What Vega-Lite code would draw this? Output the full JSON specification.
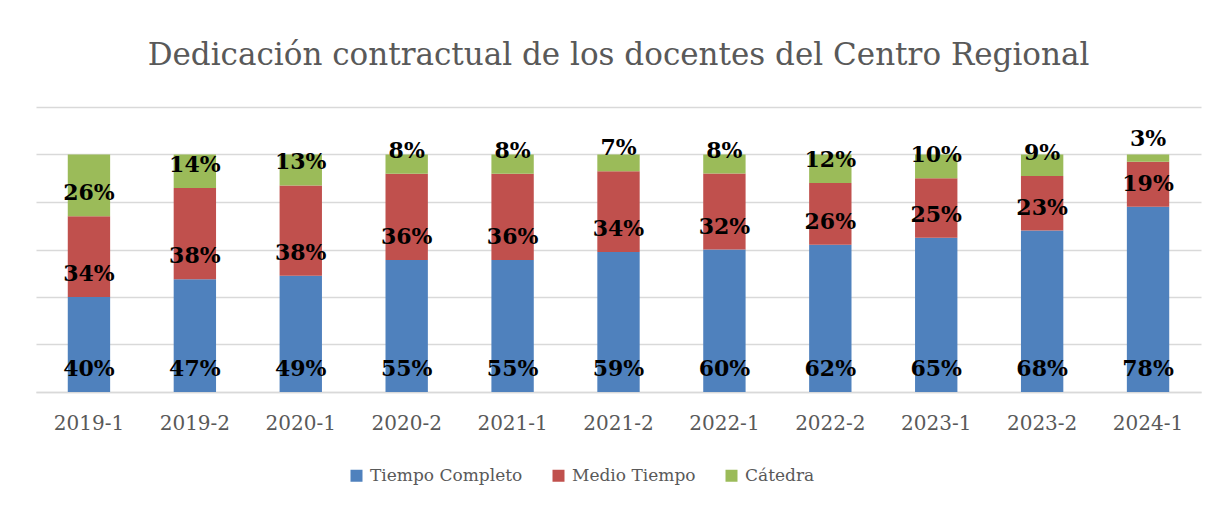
{
  "$schema": "https://vega.github.io/schema/vega-lite/v6.json",
  "width": 1165,
  "height": 285,
  "autosize": "none",
  "padding": {"left": 36, "top": 107, "right": 22, "bottom": 114},
  "background": "white",
  "title": {
    "text": "Dedicación contractual de los docentes del Centro Regional",
    "font": "DejaVu Serif",
    "fontSize": 31,
    "fontWeight": "normal",
    "color": "#595959",
    "anchor": "middle",
    "offset": 35
  },
  "data": {
    "values": [
      {"periodo": "2019-1", "tipo": "Tiempo Completo", "orden": 1, "valor": 0.40},
      {"periodo": "2019-1", "tipo": "Medio Tiempo", "orden": 2, "valor": 0.34},
      {"periodo": "2019-1", "tipo": "Cátedra", "orden": 3, "valor": 0.26},
      {"periodo": "2019-2", "tipo": "Tiempo Completo", "orden": 1, "valor": 0.47},
      {"periodo": "2019-2", "tipo": "Medio Tiempo", "orden": 2, "valor": 0.38},
      {"periodo": "2019-2", "tipo": "Cátedra", "orden": 3, "valor": 0.14},
      {"periodo": "2020-1", "tipo": "Tiempo Completo", "orden": 1, "valor": 0.49},
      {"periodo": "2020-1", "tipo": "Medio Tiempo", "orden": 2, "valor": 0.38},
      {"periodo": "2020-1", "tipo": "Cátedra", "orden": 3, "valor": 0.13},
      {"periodo": "2020-2", "tipo": "Tiempo Completo", "orden": 1, "valor": 0.55},
      {"periodo": "2020-2", "tipo": "Medio Tiempo", "orden": 2, "valor": 0.36},
      {"periodo": "2020-2", "tipo": "Cátedra", "orden": 3, "valor": 0.08},
      {"periodo": "2021-1", "tipo": "Tiempo Completo", "orden": 1, "valor": 0.55},
      {"periodo": "2021-1", "tipo": "Medio Tiempo", "orden": 2, "valor": 0.36},
      {"periodo": "2021-1", "tipo": "Cátedra", "orden": 3, "valor": 0.08},
      {"periodo": "2021-2", "tipo": "Tiempo Completo", "orden": 1, "valor": 0.59},
      {"periodo": "2021-2", "tipo": "Medio Tiempo", "orden": 2, "valor": 0.34},
      {"periodo": "2021-2", "tipo": "Cátedra", "orden": 3, "valor": 0.07},
      {"periodo": "2022-1", "tipo": "Tiempo Completo", "orden": 1, "valor": 0.60},
      {"periodo": "2022-1", "tipo": "Medio Tiempo", "orden": 2, "valor": 0.32},
      {"periodo": "2022-1", "tipo": "Cátedra", "orden": 3, "valor": 0.08},
      {"periodo": "2022-2", "tipo": "Tiempo Completo", "orden": 1, "valor": 0.62},
      {"periodo": "2022-2", "tipo": "Medio Tiempo", "orden": 2, "valor": 0.26},
      {"periodo": "2022-2", "tipo": "Cátedra", "orden": 3, "valor": 0.12},
      {"periodo": "2023-1", "tipo": "Tiempo Completo", "orden": 1, "valor": 0.65},
      {"periodo": "2023-1", "tipo": "Medio Tiempo", "orden": 2, "valor": 0.25},
      {"periodo": "2023-1", "tipo": "Cátedra", "orden": 3, "valor": 0.10},
      {"periodo": "2023-2", "tipo": "Tiempo Completo", "orden": 1, "valor": 0.68},
      {"periodo": "2023-2", "tipo": "Medio Tiempo", "orden": 2, "valor": 0.23},
      {"periodo": "2023-2", "tipo": "Cátedra", "orden": 3, "valor": 0.09},
      {"periodo": "2024-1", "tipo": "Tiempo Completo", "orden": 1, "valor": 0.78},
      {"periodo": "2024-1", "tipo": "Medio Tiempo", "orden": 2, "valor": 0.19},
      {"periodo": "2024-1", "tipo": "Cátedra", "orden": 3, "valor": 0.03}
    ]
  },
  "transform": [
    {
      "stack": "valor",
      "groupby": ["periodo"],
      "sort": [{"field": "orden", "order": "ascending"}],
      "as": ["y0", "y1"],
      "offset": "normalize"
    }
  ],
  "encoding": {
    "x": {
      "field": "periodo",
      "type": "nominal",
      "sort": null,
      "scale": {"paddingInner": 0.6, "paddingOuter": 0.3},
      "axis": {
        "title": null,
        "labelAngle": 0,
        "labelFont": "DejaVu Serif",
        "labelFontSize": 20,
        "labelColor": "#595959",
        "labelPadding": 21,
        "ticks": false,
        "domainColor": "#d9d9d9",
        "domainWidth": 1.5,
        "grid": false
      }
    }
  },
  "layer": [
    {
      "mark": {"type": "bar"},
      "encoding": {
        "y": {
          "field": "y0",
          "type": "quantitative",
          "scale": {"domain": [0, 1.2]},
          "axis": {
            "title": null,
            "labels": false,
            "ticks": false,
            "domain": false,
            "grid": true,
            "gridColor": "#d9d9d9",
            "gridWidth": 1.5,
            "values": [0, 0.2, 0.4, 0.6, 0.8, 1.0, 1.2]
          }
        },
        "y2": {"field": "y1"},
        "color": {
          "field": "tipo",
          "type": "nominal",
          "scale": {
            "domain": ["Tiempo Completo", "Medio Tiempo", "Cátedra"],
            "range": ["#4F81BD", "#C0504D", "#9BBB59"]
          },
          "legend": {
            "title": null,
            "orient": "none",
            "legendX": 312,
            "legendY": 360,
            "direction": "horizontal",
            "symbolType": "square",
            "symbolSize": 144,
            "symbolStrokeWidth": 0,
            "labelFont": "DejaVu Serif",
            "labelFontSize": 17,
            "labelColor": "#595959",
            "labelLimit": 400,
            "labelOffset": 5,
            "columnPadding": 27
          }
        }
      }
    },
    {
      "mark": {
        "type": "text",
        "font": "DejaVu Serif",
        "fontWeight": "bold",
        "fontSize": 22,
        "color": "black",
        "baseline": "middle",
        "dy": -23
      },
      "encoding": {
        "y": {"field": "y0", "type": "quantitative"},
        "text": {"field": "valor", "type": "quantitative", "format": ".0%"}
      }
    }
  ],
  "config": {
    "view": {"stroke": null}
  }
}
